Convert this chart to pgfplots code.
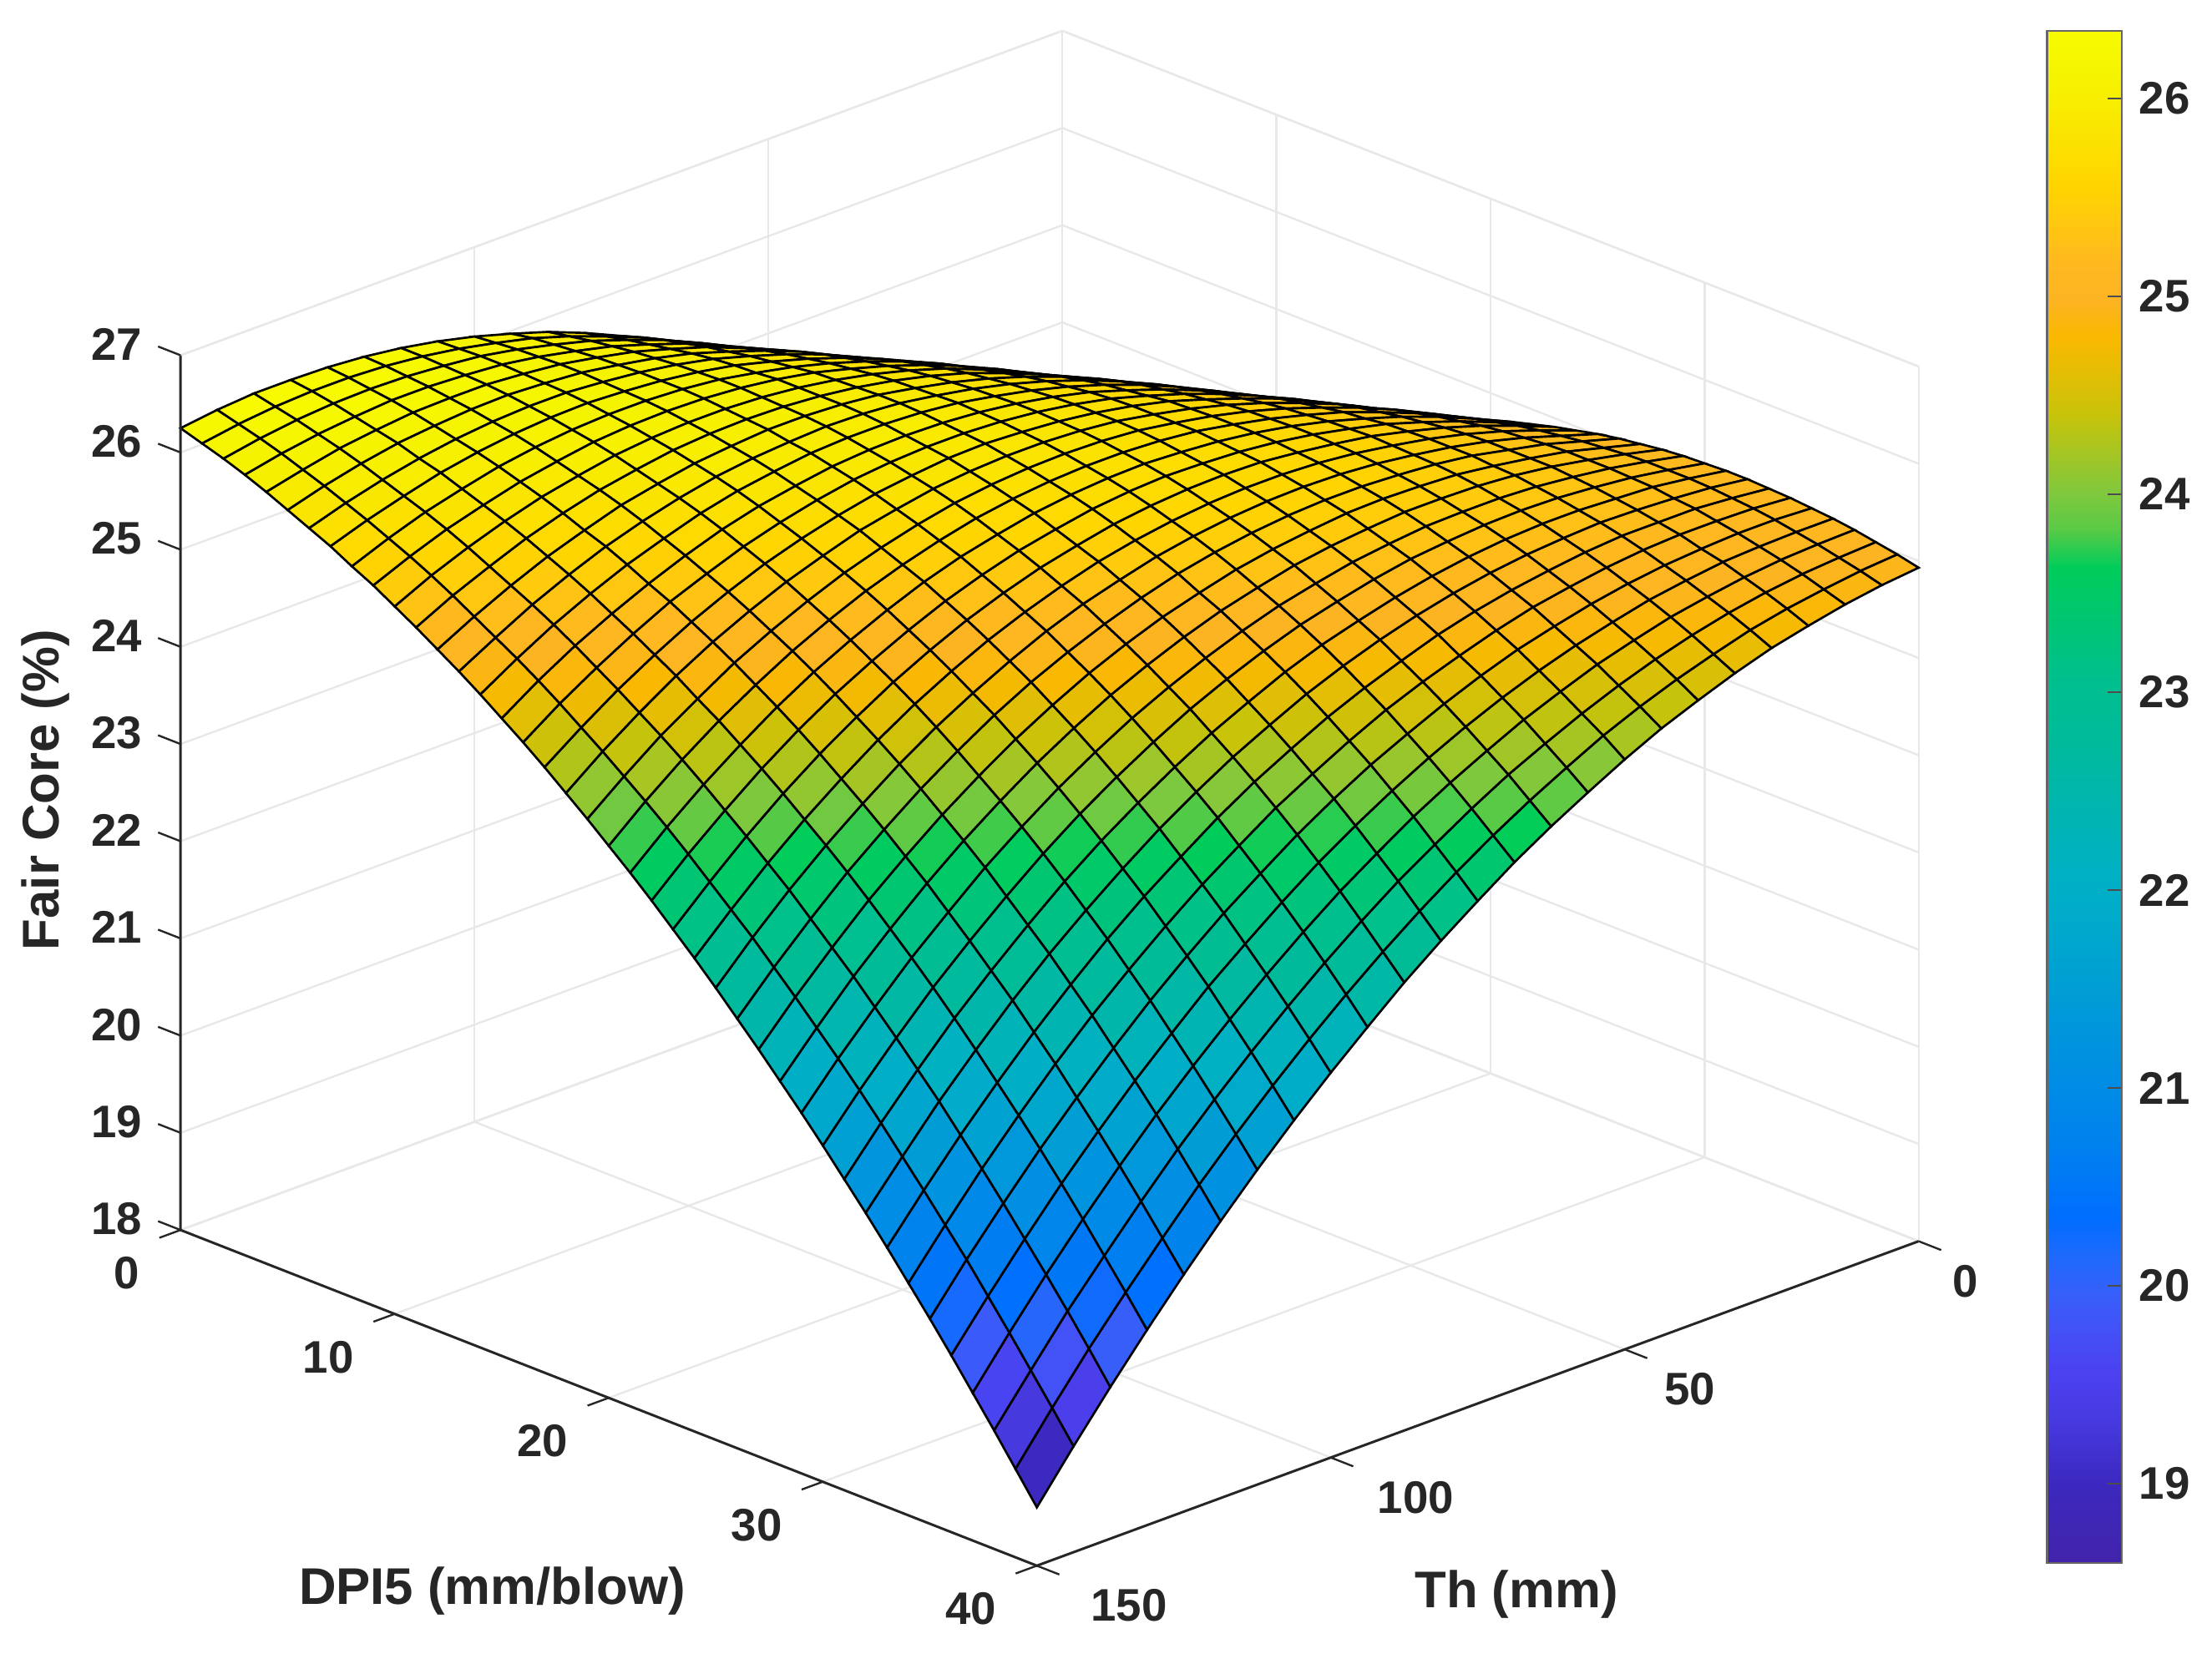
\documentclass[border=0pt]{standalone}
\usepackage{fontspec}
\setmainfont{Liberation Sans}
\usepackage{pgfplots}
\pgfplotsset{compat=1.18}
\usetikzlibrary{calc}
\pgfplotsset{
  colormap={parulafig}{
    rgb255=(65,35,170) rgb255=(63,38,180) rgb255=(60,40,190) rgb255=(66,50,210)
    rgb255=(72,60,228) rgb255=(75,65,240) rgb255=(68,80,245) rgb255=(55,95,250)
    rgb255=(30,105,252) rgb255=(0,110,255) rgb255=(0,120,246) rgb255=(0,130,238)
    rgb255=(0,137,232) rgb255=(0,144,226) rgb255=(0,150,220) rgb255=(0,158,212)
    rgb255=(0,165,207) rgb255=(0,172,202) rgb255=(0,176,196) rgb255=(0,179,184)
    rgb255=(0,182,172) rgb255=(0,185,160) rgb255=(0,188,150) rgb255=(0,191,143)
    rgb255=(0,195,125) rgb255=(0,200,108) rgb255=(0,205,90) rgb255=(90,202,70)
    rgb255=(130,200,60) rgb255=(165,197,35) rgb255=(200,195,10) rgb255=(225,190,5)
    rgb255=(250,185,0) rgb255=(253,180,35) rgb255=(255,185,30) rgb255=(255,200,15)
    rgb255=(255,213,0) rgb255=(252,224,0) rgb255=(248,236,0) rgb255=(245,245,0)
    rgb255=(248,252,0)
  }
}
\definecolor{lab}{RGB}{38,38,38}
\begin{document}
\begin{tikzpicture}
\begin{axis}[
  x={(0.15175cm,-0.0595cm)}, y={(0.04167cm,0.01533cm)}, z={(0cm,0.689cm)},
  y dir=reverse,
  xmin=0, xmax=40, ymin=0, ymax=150, zmin=18, zmax=27,
  xtick={0,10,20,30,40}, ytick={0,50,100,150}, ztick={18,...,27},
  yticklabels={0,{\kern0.04cm 50},{\kern0.09cm 100},{\kern0.14cm 150}},
  xtick pos=left, ytick pos=left, ztick pos=left,
  grid=major, grid style={gray!18,line width=0.4pt},
  axis line style={gray!18,line width=0.4pt},
  tick align=outside, major tick length=0.16cm,
  tick style={draw=none},
  point meta min=18.6, point meta max=26.34,
  tick label style={font=\fontsize{9.2}{11}\bfseries,text=lab},
  xticklabel style={anchor=east,xshift=-0.015cm,yshift=-0.25cm},
  yticklabel style={anchor=west,xshift=-0.03cm,yshift=-0.225cm},
  zticklabel style={yshift=0.13cm},
  /pgf/number format/assume math mode=true,
  clip=false,
]
\addplot3[surf,shader=faceted,faceted color=black,line width=0.45pt,z buffer=sort,mesh/cols=41] coordinates {
(0,0,22.00)(1,0,22.20)(2,0,22.38)(3,0,22.57)(4,0,22.75)(5,0,22.92)(6,0,23.08)(7,0,23.24)(8,0,23.39)(9,0,23.53)(10,0,23.67)(11,0,23.81)(12,0,23.93)(13,0,24.05)(14,0,24.17)(15,0,24.28)(16,0,24.38)(17,0,24.47)(18,0,24.56)(19,0,24.64)(20,0,24.72)(21,0,24.79)(22,0,24.85)(23,0,24.91)(24,0,24.96)(25,0,25.01)(26,0,25.05)(27,0,25.08)(28,0,25.11)(29,0,25.13)(30,0,25.14)(31,0,25.15)(32,0,25.15)(33,0,25.14)(34,0,25.13)(35,0,25.11)(36,0,25.09)(37,0,25.06)(38,0,25.02)(39,0,24.98)(40,0,24.93)
(0,6.25,22.40)(1,6.25,22.59)(2,6.25,22.77)(3,6.25,22.94)(4,6.25,23.10)(5,6.25,23.26)(6,6.25,23.42)(7,6.25,23.56)(8,6.25,23.70)(9,6.25,23.84)(10,6.25,23.97)(11,6.25,24.09)(12,6.25,24.20)(13,6.25,24.31)(14,6.25,24.42)(15,6.25,24.51)(16,6.25,24.60)(17,6.25,24.69)(18,6.25,24.76)(19,6.25,24.84)(20,6.25,24.90)(21,6.25,24.96)(22,6.25,25.01)(23,6.25,25.06)(24,6.25,25.10)(25,6.25,25.13)(26,6.25,25.16)(27,6.25,25.18)(28,6.25,25.20)(29,6.25,25.21)(30,6.25,25.21)(31,6.25,25.21)(32,6.25,25.20)(33,6.25,25.18)(34,6.25,25.16)(35,6.25,25.13)(36,6.25,25.09)(37,6.25,25.05)(38,6.25,25.00)(39,6.25,24.95)(40,6.25,24.89)
(0,12.5,22.78)(1,12.5,22.96)(2,12.5,23.13)(3,12.5,23.29)(4,12.5,23.44)(5,12.5,23.59)(6,12.5,23.73)(7,12.5,23.87)(8,12.5,24.00)(9,12.5,24.12)(10,12.5,24.24)(11,12.5,24.35)(12,12.5,24.46)(13,12.5,24.56)(14,12.5,24.65)(15,12.5,24.73)(16,12.5,24.81)(17,12.5,24.89)(18,12.5,24.95)(19,12.5,25.02)(20,12.5,25.07)(21,12.5,25.12)(22,12.5,25.16)(23,12.5,25.20)(24,12.5,25.23)(25,12.5,25.25)(26,12.5,25.27)(27,12.5,25.28)(28,12.5,25.28)(29,12.5,25.28)(30,12.5,25.27)(31,12.5,25.26)(32,12.5,25.23)(33,12.5,25.21)(34,12.5,25.17)(35,12.5,25.13)(36,12.5,25.08)(37,12.5,25.03)(38,12.5,24.97)(39,12.5,24.90)(40,12.5,24.83)
(0,18.75,23.15)(1,18.75,23.31)(2,18.75,23.47)(3,18.75,23.62)(4,18.75,23.76)(5,18.75,23.90)(6,18.75,24.03)(7,18.75,24.16)(8,18.75,24.28)(9,18.75,24.39)(10,18.75,24.50)(11,18.75,24.60)(12,18.75,24.69)(13,18.75,24.78)(14,18.75,24.86)(15,18.75,24.94)(16,18.75,25.01)(17,18.75,25.07)(18,18.75,25.13)(19,18.75,25.18)(20,18.75,25.22)(21,18.75,25.26)(22,18.75,25.29)(23,18.75,25.32)(24,18.75,25.34)(25,18.75,25.35)(26,18.75,25.35)(27,18.75,25.35)(28,18.75,25.35)(29,18.75,25.33)(30,18.75,25.31)(31,18.75,25.28)(32,18.75,25.25)(33,18.75,25.21)(34,18.75,25.17)(35,18.75,25.11)(36,18.75,25.06)(37,18.75,24.99)(38,18.75,24.92)(39,18.75,24.84)(40,18.75,24.75)
(0,25,23.49)(1,25,23.64)(2,25,23.79)(3,25,23.93)(4,25,24.06)(5,25,24.19)(6,25,24.31)(7,25,24.42)(8,25,24.53)(9,25,24.64)(10,25,24.73)(11,25,24.82)(12,25,24.91)(13,25,24.99)(14,25,25.06)(15,25,25.12)(16,25,25.18)(17,25,25.24)(18,25,25.28)(19,25,25.32)(20,25,25.36)(21,25,25.38)(22,25,25.41)(23,25,25.42)(24,25,25.43)(25,25,25.43)(26,25,25.43)(27,25,25.41)(28,25,25.40)(29,25,25.37)(30,25,25.34)(31,25,25.30)(32,25,25.26)(33,25,25.21)(34,25,25.15)(35,25,25.08)(36,25,25.01)(37,25,24.93)(38,25,24.85)(39,25,24.76)(40,25,24.66)
(0,31.25,23.81)(1,31.25,23.95)(2,31.25,24.09)(3,31.25,24.22)(4,31.25,24.34)(5,31.25,24.46)(6,31.25,24.57)(7,31.25,24.67)(8,31.25,24.77)(9,31.25,24.87)(10,31.25,24.95)(11,31.25,25.03)(12,31.25,25.11)(13,31.25,25.18)(14,31.25,25.24)(15,31.25,25.29)(16,31.25,25.34)(17,31.25,25.38)(18,31.25,25.42)(19,31.25,25.45)(20,31.25,25.47)(21,31.25,25.49)(22,31.25,25.50)(23,31.25,25.51)(24,31.25,25.50)(25,31.25,25.49)(26,31.25,25.48)(27,31.25,25.46)(28,31.25,25.43)(29,31.25,25.39)(30,31.25,25.35)(31,31.25,25.30)(32,31.25,25.24)(33,31.25,25.18)(34,31.25,25.11)(35,31.25,25.03)(36,31.25,24.95)(37,31.25,24.86)(38,31.25,24.76)(39,31.25,24.65)(40,31.25,24.54)
(0,37.5,24.12)(1,37.5,24.25)(2,37.5,24.37)(3,37.5,24.49)(4,37.5,24.60)(5,37.5,24.71)(6,37.5,24.81)(7,37.5,24.90)(8,37.5,24.99)(9,37.5,25.08)(10,37.5,25.15)(11,37.5,25.22)(12,37.5,25.29)(13,37.5,25.35)(14,37.5,25.40)(15,37.5,25.44)(16,37.5,25.48)(17,37.5,25.51)(18,37.5,25.54)(19,37.5,25.56)(20,37.5,25.57)(21,37.5,25.58)(22,37.5,25.58)(23,37.5,25.57)(24,37.5,25.56)(25,37.5,25.54)(26,37.5,25.51)(27,37.5,25.48)(28,37.5,25.44)(29,37.5,25.39)(30,37.5,25.34)(31,37.5,25.28)(32,37.5,25.21)(33,37.5,25.13)(34,37.5,25.05)(35,37.5,24.96)(36,37.5,24.86)(37,37.5,24.76)(38,37.5,24.65)(39,37.5,24.53)(40,37.5,24.40)
(0,43.75,24.40)(1,43.75,24.52)(2,43.75,24.63)(3,43.75,24.74)(4,43.75,24.84)(5,43.75,24.94)(6,43.75,25.03)(7,43.75,25.11)(8,43.75,25.19)(9,43.75,25.27)(10,43.75,25.33)(11,43.75,25.39)(12,43.75,25.45)(13,43.75,25.50)(14,43.75,25.54)(15,43.75,25.57)(16,43.75,25.60)(17,43.75,25.63)(18,43.75,25.64)(19,43.75,25.65)(20,43.75,25.65)(21,43.75,25.65)(22,43.75,25.64)(23,43.75,25.62)(24,43.75,25.60)(25,43.75,25.57)(26,43.75,25.53)(27,43.75,25.49)(28,43.75,25.44)(29,43.75,25.38)(30,43.75,25.31)(31,43.75,25.24)(32,43.75,25.16)(33,43.75,25.07)(34,43.75,24.98)(35,43.75,24.87)(36,43.75,24.76)(37,43.75,24.65)(38,43.75,24.52)(39,43.75,24.39)(40,43.75,24.25)
(0,50,24.67)(1,50,24.78)(2,50,24.88)(3,50,24.98)(4,50,25.07)(5,50,25.15)(6,50,25.23)(7,50,25.31)(8,50,25.38)(9,50,25.44)(10,50,25.49)(11,50,25.54)(12,50,25.59)(13,50,25.63)(14,50,25.66)(15,50,25.69)(16,50,25.71)(17,50,25.72)(18,50,25.72)(19,50,25.72)(20,50,25.72)(21,50,25.70)(22,50,25.68)(23,50,25.66)(24,50,25.62)(25,50,25.58)(26,50,25.53)(27,50,25.48)(28,50,25.41)(29,50,25.34)(30,50,25.27)(31,50,25.18)(32,50,25.09)(33,50,24.99)(34,50,24.88)(35,50,24.77)(36,50,24.64)(37,50,24.51)(38,50,24.37)(39,50,24.23)(40,50,24.07)
(0,56.25,24.91)(1,56.25,25.01)(2,56.25,25.10)(3,56.25,25.19)(4,56.25,25.27)(5,56.25,25.34)(6,56.25,25.41)(7,56.25,25.48)(8,56.25,25.54)(9,56.25,25.59)(10,56.25,25.64)(11,56.25,25.68)(12,56.25,25.71)(13,56.25,25.74)(14,56.25,25.76)(15,56.25,25.78)(16,56.25,25.79)(17,56.25,25.79)(18,56.25,25.79)(19,56.25,25.78)(20,56.25,25.76)(21,56.25,25.73)(22,56.25,25.70)(23,56.25,25.67)(24,56.25,25.62)(25,56.25,25.57)(26,56.25,25.51)(27,56.25,25.44)(28,56.25,25.37)(29,56.25,25.29)(30,56.25,25.20)(31,56.25,25.10)(32,56.25,25.00)(33,56.25,24.89)(34,56.25,24.76)(35,56.25,24.64)(36,56.25,24.50)(37,56.25,24.36)(38,56.25,24.20)(39,56.25,24.04)(40,56.25,23.87)
(0,62.5,25.14)(1,62.5,25.23)(2,62.5,25.31)(3,62.5,25.38)(4,62.5,25.45)(5,62.5,25.52)(6,62.5,25.58)(7,62.5,25.63)(8,62.5,25.68)(9,62.5,25.72)(10,62.5,25.76)(11,62.5,25.79)(12,62.5,25.81)(13,62.5,25.83)(14,62.5,25.84)(15,62.5,25.85)(16,62.5,25.85)(17,62.5,25.84)(18,62.5,25.83)(19,62.5,25.81)(20,62.5,25.78)(21,62.5,25.75)(22,62.5,25.71)(23,62.5,25.66)(24,62.5,25.60)(25,62.5,25.54)(26,62.5,25.47)(27,62.5,25.39)(28,62.5,25.31)(29,62.5,25.21)(30,62.5,25.11)(31,62.5,25.00)(32,62.5,24.89)(33,62.5,24.76)(34,62.5,24.63)(35,62.5,24.49)(36,62.5,24.34)(37,62.5,24.18)(38,62.5,24.02)(39,62.5,23.84)(40,62.5,23.66)
(0,68.75,25.34)(1,68.75,25.42)(2,68.75,25.49)(3,68.75,25.55)(4,68.75,25.61)(5,68.75,25.67)(6,68.75,25.72)(7,68.75,25.76)(8,68.75,25.80)(9,68.75,25.83)(10,68.75,25.86)(11,68.75,25.88)(12,68.75,25.89)(13,68.75,25.90)(14,68.75,25.91)(15,68.75,25.90)(16,68.75,25.89)(17,68.75,25.87)(18,68.75,25.85)(19,68.75,25.82)(20,68.75,25.78)(21,68.75,25.74)(22,68.75,25.69)(23,68.75,25.63)(24,68.75,25.56)(25,68.75,25.49)(26,68.75,25.41)(27,68.75,25.32)(28,68.75,25.22)(29,68.75,25.12)(30,68.75,25.01)(31,68.75,24.89)(32,68.75,24.76)(33,68.75,24.62)(34,68.75,24.48)(35,68.75,24.32)(36,68.75,24.16)(37,68.75,23.99)(38,68.75,23.81)(39,68.75,23.62)(40,68.75,23.43)
(0,75,25.53)(1,75,25.60)(2,75,25.66)(3,75,25.71)(4,75,25.76)(5,75,25.80)(6,75,25.84)(7,75,25.87)(8,75,25.90)(9,75,25.93)(10,75,25.94)(11,75,25.95)(12,75,25.96)(13,75,25.96)(14,75,25.95)(15,75,25.93)(16,75,25.91)(17,75,25.89)(18,75,25.85)(19,75,25.81)(20,75,25.76)(21,75,25.71)(22,75,25.65)(23,75,25.58)(24,75,25.50)(25,75,25.42)(26,75,25.33)(27,75,25.22)(28,75,25.12)(29,75,25.00)(30,75,24.88)(31,75,24.75)(32,75,24.61)(33,75,24.46)(34,75,24.30)(35,75,24.14)(36,75,23.96)(37,75,23.78)(38,75,23.58)(39,75,23.38)(40,75,23.17)
(0,81.25,25.70)(1,81.25,25.75)(2,81.25,25.80)(3,81.25,25.84)(4,81.25,25.88)(5,81.25,25.92)(6,81.25,25.95)(7,81.25,25.97)(8,81.25,25.98)(9,81.25,26.00)(10,81.25,26.00)(11,81.25,26.00)(12,81.25,26.00)(13,81.25,25.99)(14,81.25,25.97)(15,81.25,25.94)(16,81.25,25.91)(17,81.25,25.88)(18,81.25,25.83)(19,81.25,25.78)(20,81.25,25.72)(21,81.25,25.66)(22,81.25,25.58)(23,81.25,25.50)(24,81.25,25.42)(25,81.25,25.32)(26,81.25,25.22)(27,81.25,25.11)(28,81.25,24.99)(29,81.25,24.86)(30,81.25,24.73)(31,81.25,24.58)(32,81.25,24.43)(33,81.25,24.27)(34,81.25,24.10)(35,81.25,23.93)(36,81.25,23.74)(37,81.25,23.54)(38,81.25,23.34)(39,81.25,23.12)(40,81.25,22.90)
(0,87.5,25.85)(1,87.5,25.89)(2,87.5,25.93)(3,87.5,25.96)(4,87.5,25.99)(5,87.5,26.01)(6,87.5,26.03)(7,87.5,26.04)(8,87.5,26.05)(9,87.5,26.05)(10,87.5,26.04)(11,87.5,26.03)(12,87.5,26.02)(13,87.5,26.00)(14,87.5,25.97)(15,87.5,25.93)(16,87.5,25.89)(17,87.5,25.84)(18,87.5,25.79)(19,87.5,25.73)(20,87.5,25.66)(21,87.5,25.58)(22,87.5,25.50)(23,87.5,25.41)(24,87.5,25.31)(25,87.5,25.21)(26,87.5,25.09)(27,87.5,24.97)(28,87.5,24.84)(29,87.5,24.70)(30,87.5,24.56)(31,87.5,24.40)(32,87.5,24.24)(33,87.5,24.07)(34,87.5,23.89)(35,87.5,23.70)(36,87.5,23.50)(37,87.5,23.29)(38,87.5,23.07)(39,87.5,22.84)(40,87.5,22.61)
(0,93.75,25.97)(1,93.75,26.01)(2,93.75,26.03)(3,93.75,26.05)(4,93.75,26.07)(5,93.75,26.08)(6,93.75,26.09)(7,93.75,26.09)(8,93.75,26.09)(9,93.75,26.08)(10,93.75,26.06)(11,93.75,26.04)(12,93.75,26.02)(13,93.75,25.98)(14,93.75,25.95)(15,93.75,25.90)(16,93.75,25.85)(17,93.75,25.79)(18,93.75,25.72)(19,93.75,25.65)(20,93.75,25.57)(21,93.75,25.49)(22,93.75,25.39)(23,93.75,25.29)(24,93.75,25.18)(25,93.75,25.07)(26,93.75,24.94)(27,93.75,24.81)(28,93.75,24.67)(29,93.75,24.52)(30,93.75,24.36)(31,93.75,24.19)(32,93.75,24.02)(33,93.75,23.84)(34,93.75,23.64)(35,93.75,23.44)(36,93.75,23.23)(37,93.75,23.01)(38,93.75,22.78)(39,93.75,22.54)(40,93.75,22.29)
(0,100,26.08)(1,100,26.10)(2,100,26.12)(3,100,26.13)(4,100,26.14)(5,100,26.14)(6,100,26.13)(7,100,26.12)(8,100,26.11)(9,100,26.09)(10,100,26.06)(11,100,26.03)(12,100,25.99)(13,100,25.95)(14,100,25.90)(15,100,25.84)(16,100,25.78)(17,100,25.71)(18,100,25.64)(19,100,25.55)(20,100,25.46)(21,100,25.37)(22,100,25.26)(23,100,25.15)(24,100,25.03)(25,100,24.90)(26,100,24.77)(27,100,24.62)(28,100,24.47)(29,100,24.31)(30,100,24.14)(31,100,23.96)(32,100,23.78)(33,100,23.58)(34,100,23.38)(35,100,23.17)(36,100,22.94)(37,100,22.71)(38,100,22.47)(39,100,22.22)(40,100,21.96)
(0,106.25,26.17)(1,106.25,26.18)(2,106.25,26.19)(3,106.25,26.19)(4,106.25,26.18)(5,106.25,26.17)(6,106.25,26.16)(7,106.25,26.14)(8,106.25,26.11)(9,106.25,26.08)(10,106.25,26.04)(11,106.25,26.00)(12,106.25,25.95)(13,106.25,25.90)(14,106.25,25.84)(15,106.25,25.77)(16,106.25,25.69)(17,106.25,25.61)(18,106.25,25.52)(19,106.25,25.43)(20,106.25,25.33)(21,106.25,25.22)(22,106.25,25.10)(23,106.25,24.98)(24,106.25,24.85)(25,106.25,24.71)(26,106.25,24.57)(27,106.25,24.41)(28,106.25,24.25)(29,106.25,24.08)(30,106.25,23.90)(31,106.25,23.71)(32,106.25,23.51)(33,106.25,23.31)(34,106.25,23.09)(35,106.25,22.87)(36,106.25,22.64)(37,106.25,22.39)(38,106.25,22.14)(39,106.25,21.88)(40,106.25,21.61)
(0,112.5,26.24)(1,112.5,26.24)(2,112.5,26.23)(3,112.5,26.22)(4,112.5,26.21)(5,112.5,26.19)(6,112.5,26.16)(7,112.5,26.13)(8,112.5,26.09)(9,112.5,26.05)(10,112.5,26.00)(11,112.5,25.94)(12,112.5,25.88)(13,112.5,25.82)(14,112.5,25.75)(15,112.5,25.67)(16,112.5,25.58)(17,112.5,25.49)(18,112.5,25.39)(19,112.5,25.28)(20,112.5,25.17)(21,112.5,25.05)(22,112.5,24.92)(23,112.5,24.79)(24,112.5,24.65)(25,112.5,24.50)(26,112.5,24.34)(27,112.5,24.17)(28,112.5,24.00)(29,112.5,23.82)(30,112.5,23.63)(31,112.5,23.43)(32,112.5,23.22)(33,112.5,23.01)(34,112.5,22.78)(35,112.5,22.55)(36,112.5,22.30)(37,112.5,22.05)(38,112.5,21.79)(39,112.5,21.52)(40,112.5,21.24)
(0,118.75,26.29)(1,118.75,26.28)(2,118.75,26.26)(3,118.75,26.24)(4,118.75,26.21)(5,118.75,26.18)(6,118.75,26.14)(7,118.75,26.10)(8,118.75,26.05)(9,118.75,25.99)(10,118.75,25.93)(11,118.75,25.87)(12,118.75,25.80)(13,118.75,25.72)(14,118.75,25.63)(15,118.75,25.54)(16,118.75,25.44)(17,118.75,25.34)(18,118.75,25.23)(19,118.75,25.11)(20,118.75,24.99)(21,118.75,24.86)(22,118.75,24.72)(23,118.75,24.57)(24,118.75,24.42)(25,118.75,24.26)(26,118.75,24.09)(27,118.75,23.91)(28,118.75,23.73)(29,118.75,23.54)(30,118.75,23.33)(31,118.75,23.12)(32,118.75,22.91)(33,118.75,22.68)(34,118.75,22.45)(35,118.75,22.20)(36,118.75,21.95)(37,118.75,21.69)(38,118.75,21.42)(39,118.75,21.14)(40,118.75,20.85)
(0,125,26.32)(1,125,26.30)(2,125,26.27)(3,125,26.24)(4,125,26.20)(5,125,26.15)(6,125,26.10)(7,125,26.05)(8,125,25.99)(9,125,25.92)(10,125,25.85)(11,125,25.77)(12,125,25.68)(13,125,25.60)(14,125,25.50)(15,125,25.39)(16,125,25.29)(17,125,25.17)(18,125,25.05)(19,125,24.92)(20,125,24.78)(21,125,24.64)(22,125,24.49)(23,125,24.33)(24,125,24.16)(25,125,23.99)(26,125,23.81)(27,125,23.62)(28,125,23.43)(29,125,23.22)(30,125,23.01)(31,125,22.79)(32,125,22.57)(33,125,22.33)(34,125,22.09)(35,125,21.83)(36,125,21.57)(37,125,21.30)(38,125,21.02)(39,125,20.73)(40,125,20.44)
(0,131.25,26.33)(1,131.25,26.30)(2,131.25,26.26)(3,131.25,26.21)(4,131.25,26.16)(5,131.25,26.11)(6,131.25,26.04)(7,131.25,25.98)(8,131.25,25.90)(9,131.25,25.82)(10,131.25,25.74)(11,131.25,25.65)(12,131.25,25.55)(13,131.25,25.45)(14,131.25,25.34)(15,131.25,25.22)(16,131.25,25.10)(17,131.25,24.97)(18,131.25,24.84)(19,131.25,24.69)(20,131.25,24.55)(21,131.25,24.39)(22,131.25,24.23)(23,131.25,24.06)(24,131.25,23.88)(25,131.25,23.70)(26,131.25,23.51)(27,131.25,23.31)(28,131.25,23.10)(29,131.25,22.89)(30,131.25,22.67)(31,131.25,22.44)(32,131.25,22.20)(33,131.25,21.95)(34,131.25,21.70)(35,131.25,21.44)(36,131.25,21.17)(37,131.25,20.89)(38,131.25,20.60)(39,131.25,20.31)(40,131.25,20.01)
(0,137.5,26.33)(1,137.5,26.28)(2,137.5,26.23)(3,137.5,26.17)(4,137.5,26.11)(5,137.5,26.04)(6,137.5,25.96)(7,137.5,25.88)(8,137.5,25.80)(9,137.5,25.71)(10,137.5,25.61)(11,137.5,25.50)(12,137.5,25.39)(13,137.5,25.28)(14,137.5,25.16)(15,137.5,25.03)(16,137.5,24.89)(17,137.5,24.75)(18,137.5,24.60)(19,137.5,24.45)(20,137.5,24.29)(21,137.5,24.12)(22,137.5,23.94)(23,137.5,23.76)(24,137.5,23.57)(25,137.5,23.38)(26,137.5,23.17)(27,137.5,22.96)(28,137.5,22.75)(29,137.5,22.52)(30,137.5,22.29)(31,137.5,22.05)(32,137.5,21.81)(33,137.5,21.55)(34,137.5,21.29)(35,137.5,21.02)(36,137.5,20.74)(37,137.5,20.46)(38,137.5,20.17)(39,137.5,19.87)(40,137.5,19.56)
(0,143.75,26.30)(1,143.75,26.24)(2,143.75,26.18)(3,143.75,26.11)(4,143.75,26.03)(5,143.75,25.95)(6,143.75,25.86)(7,143.75,25.77)(8,143.75,25.67)(9,143.75,25.57)(10,143.75,25.46)(11,143.75,25.34)(12,143.75,25.21)(13,143.75,25.08)(14,143.75,24.95)(15,143.75,24.81)(16,143.75,24.66)(17,143.75,24.50)(18,143.75,24.34)(19,143.75,24.17)(20,143.75,24.00)(21,143.75,23.82)(22,143.75,23.63)(23,143.75,23.43)(24,143.75,23.23)(25,143.75,23.03)(26,143.75,22.81)(27,143.75,22.59)(28,143.75,22.36)(29,143.75,22.13)(30,143.75,21.89)(31,143.75,21.64)(32,143.75,21.38)(33,143.75,21.12)(34,143.75,20.85)(35,143.75,20.58)(36,143.75,20.29)(37,143.75,20.00)(38,143.75,19.70)(39,143.75,19.40)(40,143.75,19.09)
(0,150,26.25)(1,150,26.18)(2,150,26.11)(3,150,26.03)(4,150,25.94)(5,150,25.84)(6,150,25.74)(7,150,25.64)(8,150,25.52)(9,150,25.41)(10,150,25.28)(11,150,25.15)(12,150,25.01)(13,150,24.87)(14,150,24.72)(15,150,24.56)(16,150,24.40)(17,150,24.23)(18,150,24.05)(19,150,23.87)(20,150,23.68)(21,150,23.49)(22,150,23.29)(23,150,23.08)(24,150,22.87)(25,150,22.65)(26,150,22.42)(27,150,22.19)(28,150,21.95)(29,150,21.71)(30,150,21.46)(31,150,21.20)(32,150,20.94)(33,150,20.67)(34,150,20.39)(35,150,20.11)(36,150,19.82)(37,150,19.52)(38,150,19.22)(39,150,18.91)(40,150,18.60)
};
\coordinate (L) at (axis cs:0,150,18);
\draw[black!85,line width=0.5pt] (axis cs:0,150,27) -- (axis cs:0,150,18) -- (axis cs:40,150,18) -- (axis cs:40,0,18);
\draw[black!85,line width=0.4pt]
  (axis cs:0,150,18)--(axis cs:0,153.6,18) (axis cs:10,150,18)--(axis cs:10,153.6,18)
  (axis cs:20,150,18)--(axis cs:20,153.6,18) (axis cs:30,150,18)--(axis cs:30,153.6,18)
  (axis cs:40,150,18)--(axis cs:40,153.6,18)
  (axis cs:40,0,18)--(axis cs:41.05,0,18) (axis cs:40,50,18)--(axis cs:41.05,50,18)
  (axis cs:40,100,18)--(axis cs:41.05,100,18) (axis cs:40,150,18)--(axis cs:41.05,150,18)
  (axis cs:0,150,18)--(axis cs:-1.05,150,18) (axis cs:0,150,19)--(axis cs:-1.05,150,19)
  (axis cs:0,150,20)--(axis cs:-1.05,150,20) (axis cs:0,150,21)--(axis cs:-1.05,150,21)
  (axis cs:0,150,22)--(axis cs:-1.05,150,22) (axis cs:0,150,23)--(axis cs:-1.05,150,23)
  (axis cs:0,150,24)--(axis cs:-1.05,150,24) (axis cs:0,150,25)--(axis cs:-1.05,150,25)
  (axis cs:0,150,26)--(axis cs:-1.05,150,26) (axis cs:0,150,27)--(axis cs:-1.05,150,27);
\end{axis}
\node[rotate=90,font=\fontsize{10.4}{12}\bfseries,text=lab] at ($(L)+(-0.96cm,3.12cm)$) {Fair Core (\%)};
\node[font=\fontsize{10.4}{12}\bfseries,text=lab] at ($(L)+(2.21cm,-2.56cm)$) {DPI5 (mm/blow)};
\node[font=\fontsize{10.4}{12}\bfseries,text=lab] at ($(L)+(9.47cm,-2.58cm)$) {Th (mm)};
\begin{axis}[
  at={($(L)+(13.23cm,-2.36cm)$)}, anchor=south west,
  width=0.53cm, height=10.86cm, scale only axis,
  xmin=0, xmax=1, ymin=18.6, ymax=26.34,
  xtick=\empty, ytick={19,...,26}, ytick pos=right,
  tick align=inside, major tick length=0.1cm,
  tick style={black!70,line width=0.4pt},
  axis line style={black!60,line width=0.4pt},
  point meta min=18.6, point meta max=26.34,
  yticklabel style={font=\fontsize{9.2}{11}\bfseries,text=lab},
  /pgf/number format/assume math mode=true,
  axis on top,
]
\addplot[surf,shader=interp,point meta=y,mesh/cols=2] coordinates {
(0,18.6)(1,18.6) (0,19)(1,19) (0,20)(1,20) (0,21)(1,21) (0,22)(1,22) (0,23)(1,23)
(0,24)(1,24) (0,25)(1,25) (0,26)(1,26) (0,26.34)(1,26.34)
};
\draw[black!80,line width=0.7pt] (rel axis cs:0,0) -- (rel axis cs:0,1);
\end{axis}
\pgfresetboundingbox
\useasboundingbox ($(L)+(-1.28cm,-3cm)$) rectangle ($(L)+(14.4cm,8.72cm)$);
\end{tikzpicture}
\end{document}
